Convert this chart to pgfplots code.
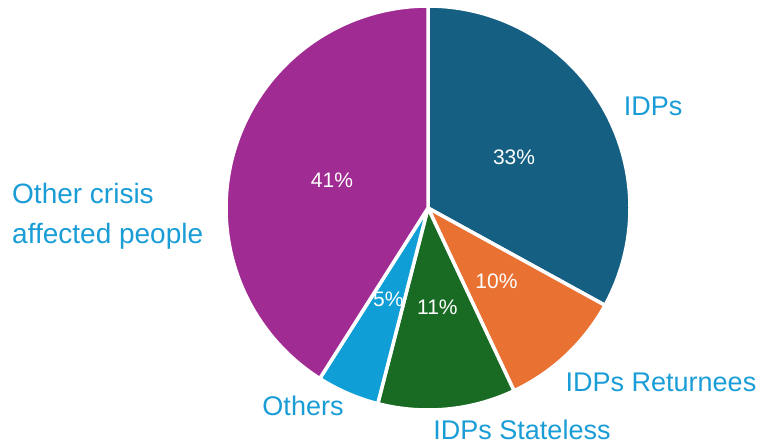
\documentclass[border=0pt]{standalone}
\usepackage{pgfplots}
\usepackage{pgfplotstable}
\pgfplotsset{compat=1.18}
\usepackage{fontspec}
\setmainfont{Liberation Sans}
\definecolor{cA}{HTML}{156082}
\definecolor{cB}{HTML}{E97132}
\definecolor{cC}{HTML}{196B24}
\definecolor{cD}{HTML}{0F9ED5}
\definecolor{cE}{HTML}{A02B93}
\definecolor{lab}{HTML}{1A9DD6}

\pgfplotstableread{
value
33
10
11
5
41
}\piedata

\pgfplotstablegetelem{0}{value}\of\piedata \let\vA\pgfplotsretval
\pgfplotstablegetelem{1}{value}\of\piedata \let\vB\pgfplotsretval
\pgfplotstablegetelem{2}{value}\of\piedata \let\vC\pgfplotsretval
\pgfplotstablegetelem{3}{value}\of\piedata \let\vD\pgfplotsretval
\pgfplotstablegetelem{4}{value}\of\piedata \let\vE\pgfplotsretval

\pgfmathsetmacro\aO{90}
\pgfmathsetmacro\aA{\aO-3.6*\vA}
\pgfmathsetmacro\aB{\aA-3.6*\vB}
\pgfmathsetmacro\aC{\aB-3.6*\vC}
\pgfmathsetmacro\aD{\aC-3.6*\vD}
\pgfmathsetmacro\aE{\aD-3.6*\vE}

\def\cx{428}
\def\cy{237}
\def\R{202}
\def\rl{100}

\begin{document}
\begin{tikzpicture}
\begin{axis}[
  scale only axis, width=762pt, height=445pt,
  xmin=0, xmax=762, ymin=0, ymax=445,
  hide axis, clip=false,
]
\path (axis cs:0,0) rectangle (axis cs:762,445);
\pgfplotsset{every axis plot/.append style={draw=white, line width=3.5pt, line join=round, samples=120}}
\addplot[fill=cA, domain=\aA:\aO] ({\cx+\R*cos(x)},{\cy+\R*sin(x)}) -- (\cx,\cy) -- cycle;
\addplot[fill=cB, domain=\aB:\aA] ({\cx+\R*cos(x)},{\cy+\R*sin(x)}) -- (\cx,\cy) -- cycle;
\addplot[fill=cC, domain=\aC:\aB] ({\cx+\R*cos(x)},{\cy+\R*sin(x)}) -- (\cx,\cy) -- cycle;
\addplot[fill=cD, domain=\aD:\aC] ({\cx+\R*cos(x)},{\cy+\R*sin(x)}) -- (\cx,\cy) -- cycle;
\addplot[fill=cE, domain=\aE:\aD] ({\cx+\R*cos(x)},{\cy+\R*sin(x)}) -- (\cx,\cy) -- cycle;

\pgfmathsetmacro\mA{(\aO+\aA)/2}
\pgfmathsetmacro\mB{(\aA+\aB)/2}
\pgfmathsetmacro\mC{(\aB+\aC)/2}
\pgfmathsetmacro\mD{(\aC+\aD)/2}
\pgfmathsetmacro\mE{(\aD+\aE)/2}
\begin{scope}[every node/.style={text=white, font=\fontsize{21}{24}\selectfont, inner sep=0pt}]
\node at (axis cs:{\cx+\rl*cos(\mA)},{\cy+\rl*sin(\mA)}) {\vA\%};
\node at (axis cs:{\cx+\rl*cos(\mB)},{\cy+\rl*sin(\mB)}) {\vB\%};
\node at (axis cs:{\cx+\rl*cos(\mC)},{\cy+\rl*sin(\mC)}) {\vC\%};
\node at (axis cs:{\cx+\rl*cos(\mD)},{\cy+\rl*sin(\mD)}) {\vD\%};
\node at (axis cs:{\cx+\rl*cos(\mE)},{\cy+\rl*sin(\mE)}) {\vE\%};
\end{scope}

\begin{scope}[every node/.style={text=lab, font=\fontsize{27}{40}\selectfont, inner sep=0pt}]
\node at (axis cs:653,339) {IDPs};
\node at (axis cs:661,63) {IDPs Returnees};
\node at (axis cs:522,15) {IDPs Stateless};
\node at (axis cs:303,39) {Others};
\node[anchor=west, align=left, font=\fontsize{28}{40}\selectfont] at (axis cs:12,229) {Other crisis\\affected people};
\end{scope}
\end{axis}
\end{tikzpicture}
\end{document}
